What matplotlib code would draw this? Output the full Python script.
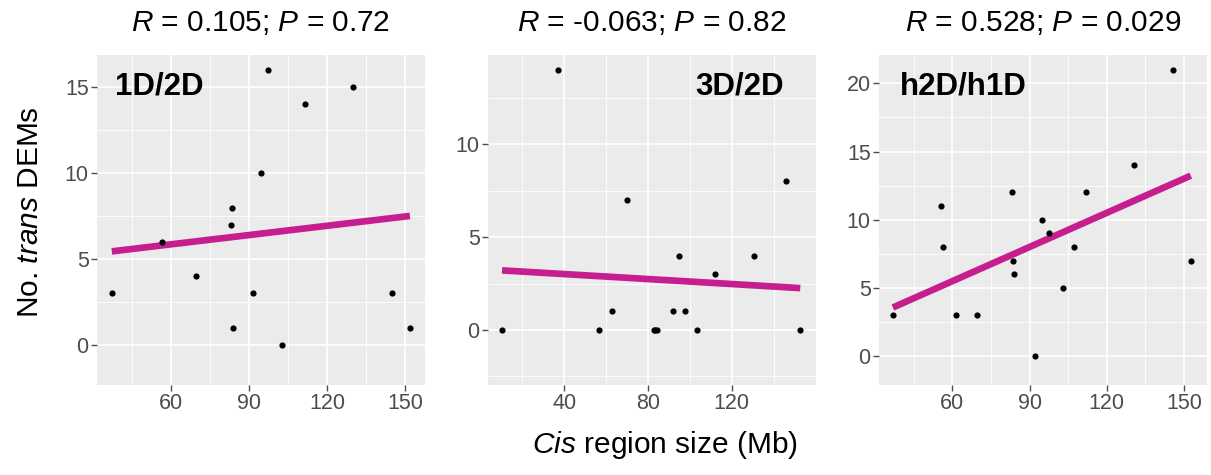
import matplotlib
matplotlib.use("Agg")
import matplotlib.pyplot as plt
import numpy as np

plt.rcParams['font.family'] = ['Liberation Sans', 'DejaVu Sans']
plt.rcParams['mathtext.fontset'] = 'custom'
plt.rcParams['mathtext.rm'] = 'Liberation Sans'
plt.rcParams['mathtext.it'] = 'Liberation Sans:italic'
plt.rcParams['mathtext.bf'] = 'Liberation Sans:bold'

# data
x_1d2d = [37.1, 56.5, 69.6, 83.1, 83.5, 83.9, 91.5, 94.6, 97.1, 102.8, 111.5, 130.1, 145.1, 151.9]
y_1d2d = [3, 6, 4, 7, 8, 1, 3, 10, 16, 0, 14, 15, 3, 1]

x_3d2d = [10.4, 37.3, 56.9, 62.9, 70.0, 83.0, 83.6, 84.5, 92.0, 95.0, 97.5, 103.4, 112.2, 130.7, 145.8, 152.7]
y_3d2d = [0, 14, 0, 1, 7, 0, 0, 0, 1, 4, 1, 0, 3, 4, 8, 0]

x_h2d = [36.9, 55.5, 56.5, 61.4, 69.7, 83.2, 83.6, 84.1, 91.9, 94.8, 97.7, 103.1, 107.3, 112.0, 130.5, 145.8, 152.6]
y_h2d = [3, 11, 8, 3, 3, 12, 7, 6, 0, 10, 9, 5, 8, 12, 14, 21, 7]

labels = ["1D/2D", "3D/2D", "h2D/h1D"]
titles = [r"$\it{R}$ = 0.105; $\it{P}$ = 0.72",
          r"$\it{R}$ = -0.063; $\it{P}$ = 0.82",
          r"$\it{R}$ = 0.528; $\it{P}$ = 0.029"]
xticks = [[60, 90, 120, 150], [40, 80, 120], [60, 90, 120, 150]]
yticks = [[0, 5, 10, 15], [0, 5, 10], [0, 5, 10, 15, 20]]
xlims = [(31.4, 157.7), (3.7, 160.2), (31.5, 158.9)]
ylims = [(-2.33, 16.88), (-2.96, 14.81), (-2.13, 22.08)]

W, H = 1211, 475
fig = plt.figure(figsize=(W / 100, H / 100), dpi=100)

lefts = [97, 488, 879]
label_x = [0.055, 0.631, 0.064]
series = [(x_1d2d, y_1d2d), (x_3d2d, y_3d2d), (x_h2d, y_h2d)]

for i in range(3):
    ax = fig.add_axes([lefts[i] / W, 1 - 385 / H, 328 / W, 330 / H])
    ax.set_facecolor('#EBEBEB')
    for s in ax.spines.values():
        s.set_visible(False)
    xs, ys = np.array(series[i][0]), np.array(series[i][1])

    xt = xticks[i]
    step = xt[1] - xt[0]
    ax.set_xticks(xt)
    ax.set_xticks(np.arange(xt[0] - step / 2, xt[-1] + step, step), minor=True)
    yt = yticks[i]
    ax.set_yticks(yt)
    ax.set_yticks(np.arange(yt[0] - 2.5, yt[-1] + 5, 5), minor=True)
    ax.set_xlim(*xlims[i])
    ax.set_ylim(*ylims[i])

    ax.grid(True, which='major', color='white', linewidth=1.2)
    ax.grid(True, which='minor', color='white', linewidth=0.6)
    ax.set_axisbelow(True)
    ax.tick_params(which='major', labelsize=15.5, labelcolor='#4D4D4D', color='#4D4D4D',
                   length=4, width=1, pad=2)
    ax.tick_params(which='minor', length=0)

    ax.scatter(xs, ys, s=20, color='black', zorder=3, linewidths=0)
    # linear fit, like geom_smooth(method = "lm")
    k, b = np.polyfit(xs, ys, 1)
    xx = np.array([xs.min(), xs.max()])
    ax.plot(xx, k * xx + b, color='#C71E8F', linewidth=4.8, solid_capstyle='butt', zorder=2)

    ax.set_title(titles[i], fontsize=21.5, pad=17)
    ax.text(label_x[i], 0.905, labels[i], transform=ax.transAxes, fontsize=22.5,
            fontweight='bold', ha='left', va='center')

fig.text(665 / W, 22 / H, r"$\it{Cis}$ region size (Mb)", fontsize=21.5, ha='center', va='baseline')
fig.text(30 / W, 1 - 212 / H, r"No. $\it{trans}$ DEMs", fontsize=21.5, rotation=90,
         ha='center', va='center')

fig.savefig("out.png", dpi=100, facecolor='white')
